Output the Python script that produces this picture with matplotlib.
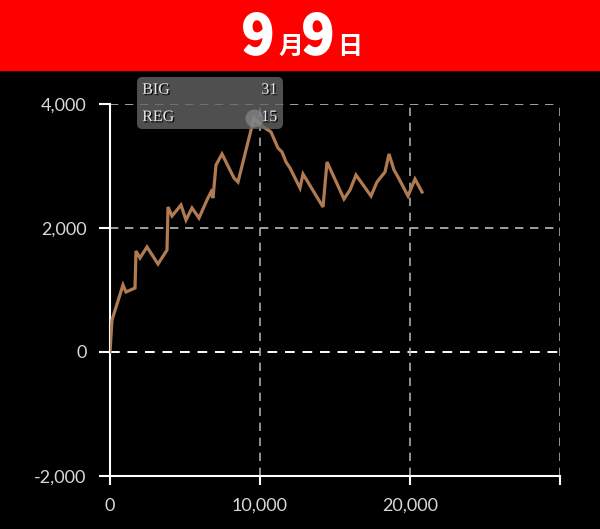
import matplotlib.pyplot as plt
from matplotlib.patches import FancyBboxPatch
import matplotlib.patheffects as pe

# 差枚推移 (games, medals)
games = [0, 133, 867, 1067, 1667, 1733, 2000, 2467, 3200, 3800, 3867, 4133, 4733,
         5067, 5467, 5933, 6467, 6733, 6867, 7067, 7467, 8267, 8533, 9600, 10133,
         10733, 11200, 11467, 11733, 12000, 12200, 12667, 12867, 14200, 14467,
         15600, 16000, 16400, 17400, 17800, 18333, 18600, 18933, 19200, 19867,
         20333, 20800]
medals = [0, 516, 1081, 968, 1032, 1629, 1516, 1694, 1419, 1645, 2339, 2194, 2371,
          2129, 2323, 2161, 2452, 2581, 2484, 3016, 3194, 2806, 2742, 3774, 3645,
          3548, 3290, 3226, 3065, 2968, 2871, 2645, 2871, 2339, 3065,
          2468, 2613, 2855, 2516, 2742, 2903, 3194, 2936, 2823, 2516,
          2790, 2581]
xticks = [0, 10000, 20000, 30000]
xtick_labels = ['0', '10,000', '20,000', '']
yticks = [-2000, 0, 2000, 4000]
ytick_labels = ['-2,000', '0', '2,000', '4,000']
big_count = 31
reg_count = 15
title_parts = ['9', '月', '9', '日']

fig = plt.figure(figsize=(6, 5.29), dpi=100)
fig.patch.set_facecolor('black')

# header band
fig.add_artist(plt.Rectangle((0, 1 - 70 / 529), 1, 70 / 529, transform=fig.transFigure,
                             color='#ff0000', zorder=0))
big_fs, small_fs = 39, 18
xs = [242, 278, 302, 337]
thick = [pe.withStroke(linewidth=1.6, foreground='white')]
for txt, x in zip(title_parts, xs):
    fs = big_fs if txt == '9' else small_fs
    fig.text(x / 600, 1 - 54 / 529, txt, color='white', fontsize=fs, fontweight='bold',
             family=['Noto Sans CJK JP', 'DejaVu Sans'], ha='left', va='baseline',
             path_effects=thick if txt == '9' else None)

ax = fig.add_axes([110 / 600, 1 - 476 / 529, 450 / 600, 372 / 529])
ax.set_facecolor('black')
ax.set_xlim(0, 30000)
ax.set_ylim(-2000, 4000)

# grid
for y in [2000, 4000]:
    ax.axhline(y, color='#bbbbbb', lw=1.2, dashes=(5, 4), zorder=1)
ax.axhline(0, color='white', lw=1.4, dashes=(5, 4), zorder=1)
for x in [10000, 20000, 30000]:
    ax.axvline(x, color='#aaaaaa', lw=1.2, dashes=(5, 4), zorder=1)

ax.plot(games, medals, color='#b07a52', lw=2.3, solid_joinstyle='miter', zorder=3)

for side in ['top', 'right']:
    ax.spines[side].set_visible(False)
for side in ['left', 'bottom']:
    ax.spines[side].set_color('white')
    ax.spines[side].set_linewidth(1.5)

ax.set_xticks(xticks)
ax.set_xticklabels(xtick_labels)
ax.set_yticks(yticks)
ax.set_yticklabels(ytick_labels)
ax.tick_params(axis='both', colors='white', labelcolor='#d8d8d8', labelsize=13,
               width=1.5)
ax.tick_params(axis='y', length=8, pad=9)
ax.tick_params(axis='x', length=6.5, pad=9)
for lab in ax.get_xticklabels() + ax.get_yticklabels():
    lab.set_family(['Lato', 'DejaVu Sans'])

# tooltip
peak_i = medals.index(max(medals))
ax.plot(games[peak_i], medals[peak_i], 'o', ms=13, color='#999999', alpha=0.55,
        mec='none', zorder=5, clip_on=False)
box = FancyBboxPatch((1800, 3597), 9733, 839, boxstyle='round,pad=0,rounding_size=350',
                     mutation_aspect=0.25, fc='#666666', ec='none', alpha=0.78,
                     zorder=4, clip_on=False)
ax.add_patch(box)
shadow = [pe.withSimplePatchShadow(offset=(1, -1), shadow_rgbFace='black', alpha=0.9)]
for lbl, val, yv in [('BIG', big_count, 4230), ('REG', reg_count, 3790)]:
    ax.text(2150, yv, lbl, color='#e6e6e6', fontsize=11.5, family='Liberation Serif',
            va='center', ha='left', zorder=6, clip_on=False, path_effects=shadow)
    ax.text(11150, yv, str(val), color='#e6e6e6', fontsize=11.5, family='Liberation Serif',
            va='center', ha='right', zorder=6, clip_on=False, path_effects=shadow)

fig.savefig('out.png', dpi=100, facecolor='black')
